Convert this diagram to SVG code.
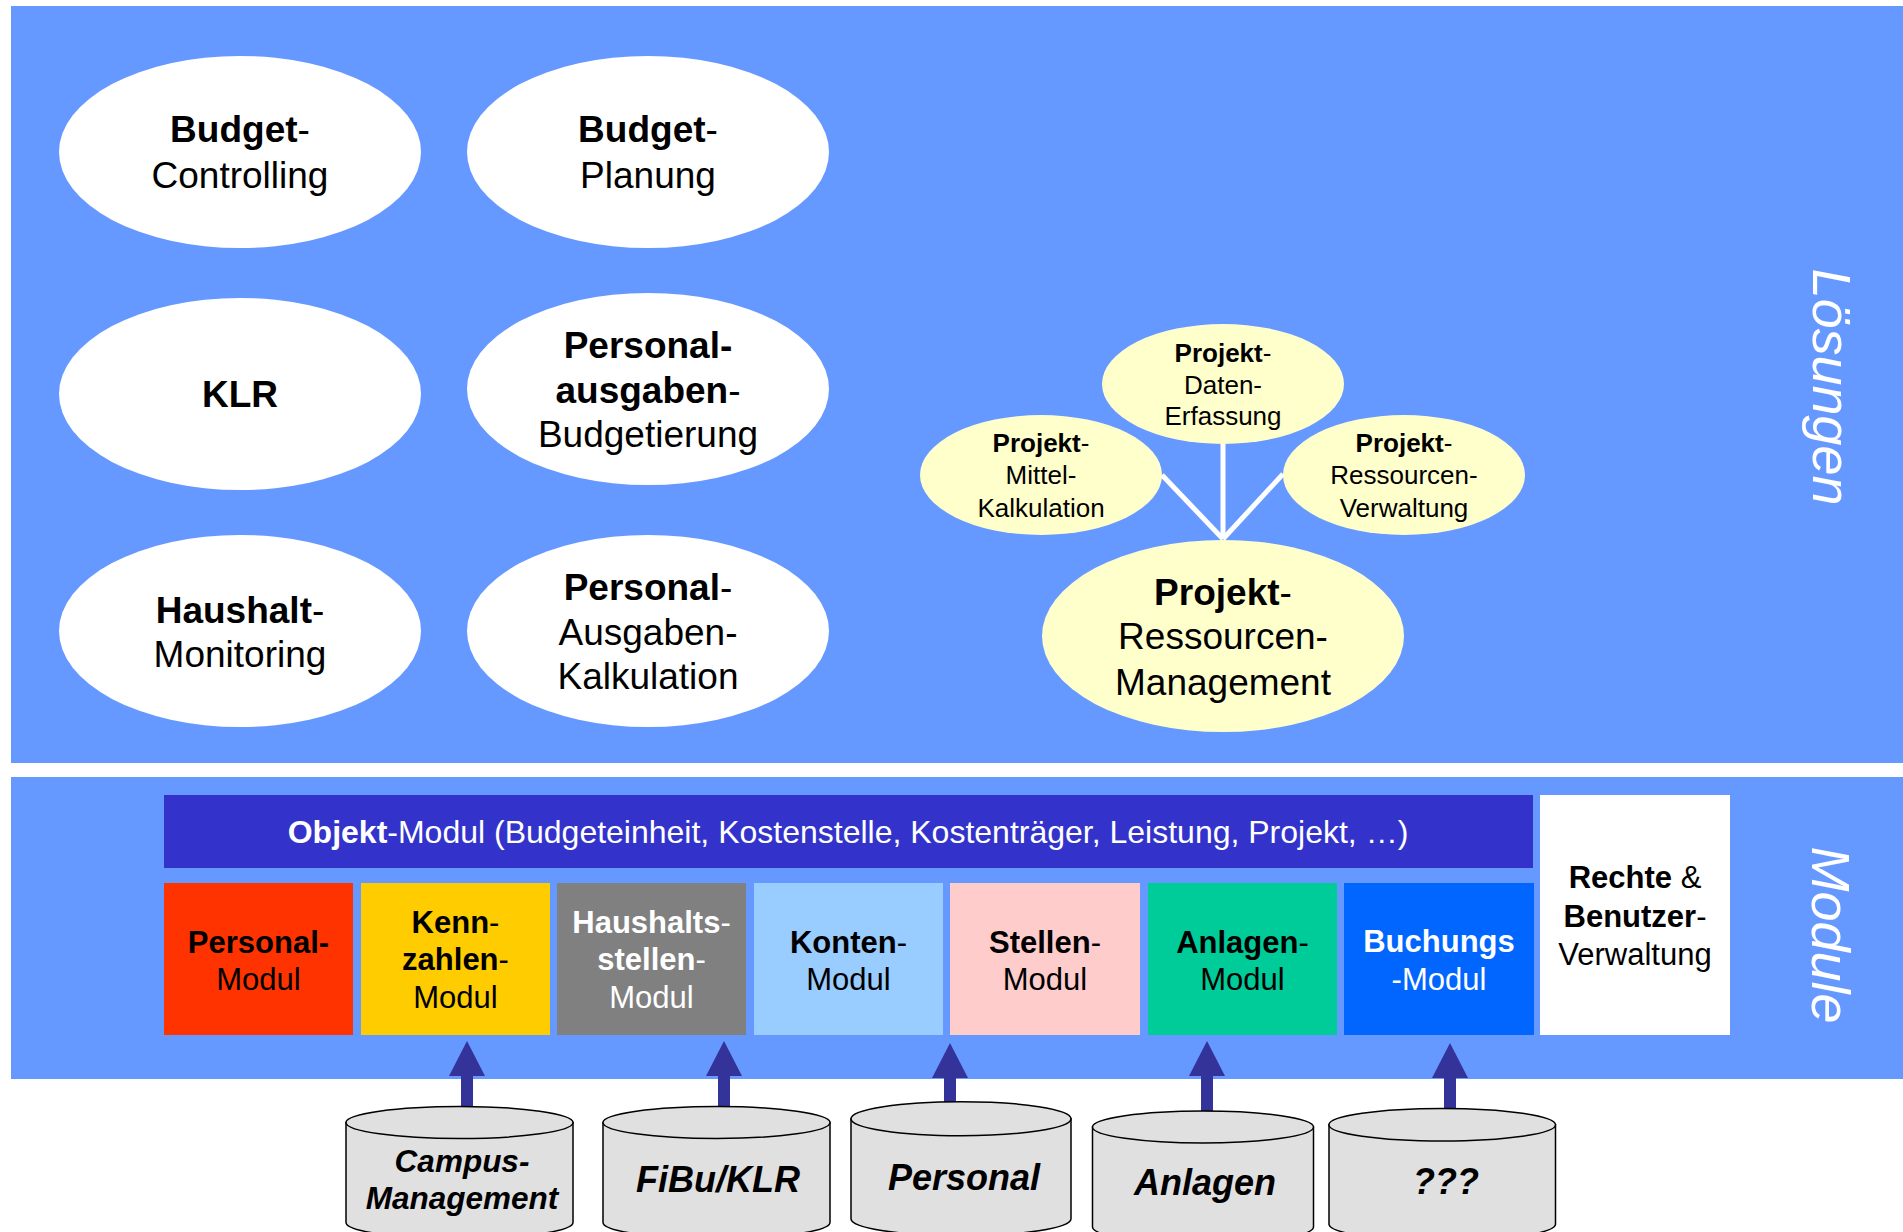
<svg xmlns="http://www.w3.org/2000/svg" width="1903" height="1232" viewBox="0 0 1903 1232">
<style>
text{font-family:"Liberation Sans",Arial,sans-serif;text-anchor:middle;fill:#000}
.b{font-weight:bold}
.e36{font-size:37px}
.e26{font-size:26px}
.m32{font-size:31px}
.w{fill:#fff}
.side{font-size:54px;font-style:italic;fill:#fff}
.cyl{fill:#E0E0E0;stroke:#000;stroke-width:1.5}
.ct{font-weight:bold;font-style:italic}
.wl{stroke:#fff;stroke-width:5;fill:none}
.ar{stroke:#333399;stroke-width:12;marker-end:url(#head)}
</style>
<defs>
<marker id="head" markerUnits="userSpaceOnUse" markerWidth="35" markerHeight="36" viewBox="0 0 35 36" refX="0" refY="18" orient="auto">
<path d="M0,0 L35,18 L0,36 Z" fill="#333399"/>
</marker>
</defs>

<rect id="panel-loesungen" x="11" y="6" width="1892" height="757" fill="#6699FF"/>
<rect id="panel-module" x="11" y="777" width="1892" height="302" fill="#6699FF"/>

<g id="n-budget-controlling">
<ellipse cx="240" cy="152" rx="181" ry="96" fill="#fff"/>
<text class="e36" x="240" y="142"><tspan class="b">Budget</tspan>-</text>
<text class="e36" x="240" y="188">Controlling</text>
</g>
<g id="n-budget-planung">
<ellipse cx="648" cy="152" rx="181" ry="96" fill="#fff"/>
<text class="e36" x="648" y="142"><tspan class="b">Budget</tspan>-</text>
<text class="e36" x="648" y="188">Planung</text>
</g>
<g id="n-klr">
<ellipse cx="240" cy="394" rx="181" ry="96" fill="#fff"/>
<text class="e36 b" x="240" y="407">KLR</text>
</g>
<g id="n-personalausgaben-budgetierung">
<ellipse cx="648" cy="389" rx="181" ry="96" fill="#fff"/>
<text class="e36 b" x="648" y="358">Personal-</text>
<text class="e36" x="648" y="403"><tspan class="b">ausgaben</tspan>-</text>
<text class="e36" x="648" y="447">Budgetierung</text>
</g>
<g id="n-haushalt-monitoring">
<ellipse cx="240" cy="631" rx="181" ry="96" fill="#fff"/>
<text class="e36" x="240" y="623"><tspan class="b">Haushalt</tspan>-</text>
<text class="e36" x="240" y="667">Monitoring</text>
</g>
<g id="n-personal-ausgaben-kalkulation">
<ellipse cx="648" cy="631" rx="181" ry="96" fill="#fff"/>
<text class="e36" x="648" y="600"><tspan class="b">Personal</tspan>-</text>
<text class="e36" x="648" y="645">Ausgaben-</text>
<text class="e36" x="648" y="689">Kalkulation</text>
</g>

<g id="connectors">
<line class="wl" x1="1223" y1="444" x2="1223" y2="539"/>
<line class="wl" x1="1162" y1="475" x2="1223" y2="539"/>
<line class="wl" x1="1283" y1="474" x2="1223" y2="539"/>
<line class="ar" x1="467" y1="1122" x2="467" y2="1076"/>
<line class="ar" x1="724" y1="1122" x2="724" y2="1076"/>
<line class="ar" x1="950" y1="1118" x2="950" y2="1078"/>
<line class="ar" x1="1207" y1="1127" x2="1207" y2="1076"/>
<line class="ar" x1="1450" y1="1124" x2="1450" y2="1078"/>
</g>

<g id="n-projekt-daten-erfassung">
<ellipse cx="1223" cy="384" rx="121" ry="60" fill="#FFFFCC"/>
<text class="e26" x="1223" y="362"><tspan class="b">Projekt</tspan>-</text>
<text class="e26" x="1223" y="394">Daten-</text>
<text class="e26" x="1223" y="425">Erfassung</text>
</g>
<g id="n-projekt-mittel-kalkulation">
<ellipse cx="1041" cy="475" rx="121" ry="60" fill="#FFFFCC"/>
<text class="e26" x="1041" y="452"><tspan class="b">Projekt</tspan>-</text>
<text class="e26" x="1041" y="484">Mittel-</text>
<text class="e26" x="1041" y="517">Kalkulation</text>
</g>
<g id="n-projekt-ressourcen-verwaltung">
<ellipse cx="1404" cy="475" rx="121" ry="60" fill="#FFFFCC"/>
<text class="e26" x="1404" y="452"><tspan class="b">Projekt</tspan>-</text>
<text class="e26" x="1404" y="484">Ressourcen-</text>
<text class="e26" x="1404" y="517">Verwaltung</text>
</g>
<g id="n-projekt-ressourcen-management">
<ellipse cx="1223" cy="636" rx="181" ry="96" fill="#FFFFCC"/>
<text class="e36" x="1223" y="605"><tspan class="b">Projekt</tspan>-</text>
<text class="e36" x="1223" y="649">Ressourcen-</text>
<text class="e36" x="1223" y="695">Management</text>
</g>

<text class="side" transform="translate(1813,387) rotate(90)">Lösungen</text>
<text class="side" transform="translate(1812,935) rotate(90)">Module</text>

<g id="n-objekt-modul">
<rect x="164" y="795" width="1369" height="73" fill="#3333CC"/>
<text class="w" x="848" y="843" font-size="32"><tspan class="b w">Objekt</tspan>-Modul (Budgeteinheit, Kostenstelle, Kostenträger, Leistung, Projekt, …)</text>
</g>
<g id="n-personal-modul">
<rect x="164" y="883" width="189" height="152" fill="#FF3300"/>
<text class="m32 b" x="258.5" y="953">Personal-</text>
<text class="m32" x="258.5" y="990">Modul</text>
</g>
<g id="n-kennzahlen-modul">
<rect x="361" y="883" width="189" height="152" fill="#FFCC00"/>
<text class="m32" x="455.5" y="933"><tspan class="b">Kenn</tspan>-</text>
<text class="m32" x="455.5" y="970"><tspan class="b">zahlen</tspan>-</text>
<text class="m32" x="455.5" y="1008">Modul</text>
</g>
<g id="n-haushaltsstellen-modul">
<rect x="557" y="883" width="189" height="152" fill="#808080"/>
<text class="m32 w" x="651.5" y="933"><tspan class="b w">Haushalts</tspan>-</text>
<text class="m32 w" x="651.5" y="970"><tspan class="b w">stellen</tspan>-</text>
<text class="m32 w" x="651.5" y="1008">Modul</text>
</g>
<g id="n-konten-modul">
<rect x="754" y="883" width="189" height="152" fill="#99CCFF"/>
<text class="m32" x="848.5" y="953"><tspan class="b">Konten</tspan>-</text>
<text class="m32" x="848.5" y="990">Modul</text>
</g>
<g id="n-stellen-modul">
<rect x="950" y="883" width="190" height="152" fill="#FFCCCC"/>
<text class="m32" x="1045" y="953"><tspan class="b">Stellen</tspan>-</text>
<text class="m32" x="1045" y="990">Modul</text>
</g>
<g id="n-anlagen-modul">
<rect x="1148" y="883" width="189" height="152" fill="#00CC99"/>
<text class="m32" x="1242.5" y="953"><tspan class="b">Anlagen</tspan>-</text>
<text class="m32" x="1242.5" y="990">Modul</text>
</g>
<g id="n-buchungs-modul">
<rect x="1344" y="883" width="190" height="152" fill="#0066FF"/>
<text class="m32 b w" x="1439" y="952">Buchungs</text>
<text class="m32 w" x="1439" y="990">-Modul</text>
</g>
<g id="n-rechte-benutzer">
<rect x="1540" y="795" width="190" height="240" fill="#fff"/>
<text class="m32" x="1635" y="888"><tspan class="b">Rechte</tspan> &amp;</text>
<text class="m32" x="1635" y="927"><tspan class="b">Benutzer</tspan>-</text>
<text class="m32" x="1635" y="965">Verwaltung</text>
</g>

<g id="n-db-campus">
<path class="cyl" d="M346,1122.5 V1222.5 A113.5,16 0 0 0 573,1222.5 V1122.5 Z"/>
<ellipse class="cyl" cx="459.5" cy="1122.5" rx="113.5" ry="16"/>
<text class="ct" x="462" y="1172" font-size="31.5">Campus-</text>
<text class="ct" x="462" y="1209" font-size="31.5">Management</text>
</g>
<g id="n-db-fibu">
<path class="cyl" d="M603,1122.5 V1222.5 A113.5,16 0 0 0 830,1222.5 V1122.5 Z"/>
<ellipse class="cyl" cx="716.5" cy="1122.5" rx="113.5" ry="16"/>
<text class="ct" x="718" y="1192" font-size="36">FiBu/KLR</text>
</g>
<g id="n-db-personal">
<path class="cyl" d="M851,1118.7 V1218.7 A110,17 0 0 0 1071,1218.7 V1118.7 Z"/>
<ellipse class="cyl" cx="961" cy="1118.7" rx="110" ry="17"/>
<text class="ct" x="964" y="1190" font-size="36">Personal</text>
</g>
<g id="n-db-anlagen">
<path class="cyl" d="M1092.5,1127 V1227 A110.5,16 0 0 0 1313.5,1227 V1127 Z"/>
<ellipse class="cyl" cx="1203" cy="1127" rx="110.5" ry="16"/>
<text class="ct" x="1205" y="1195" font-size="36">Anlagen</text>
</g>
<g id="n-db-unknown">
<path class="cyl" d="M1329,1124.7 V1224.7 A113.3,16.3 0 0 0 1555.5,1224.7 V1124.7 Z"/>
<ellipse class="cyl" cx="1442.2" cy="1124.7" rx="113.3" ry="16.3"/>
<text class="ct" x="1446" y="1194" font-size="36">???</text>
</g>
</svg>
